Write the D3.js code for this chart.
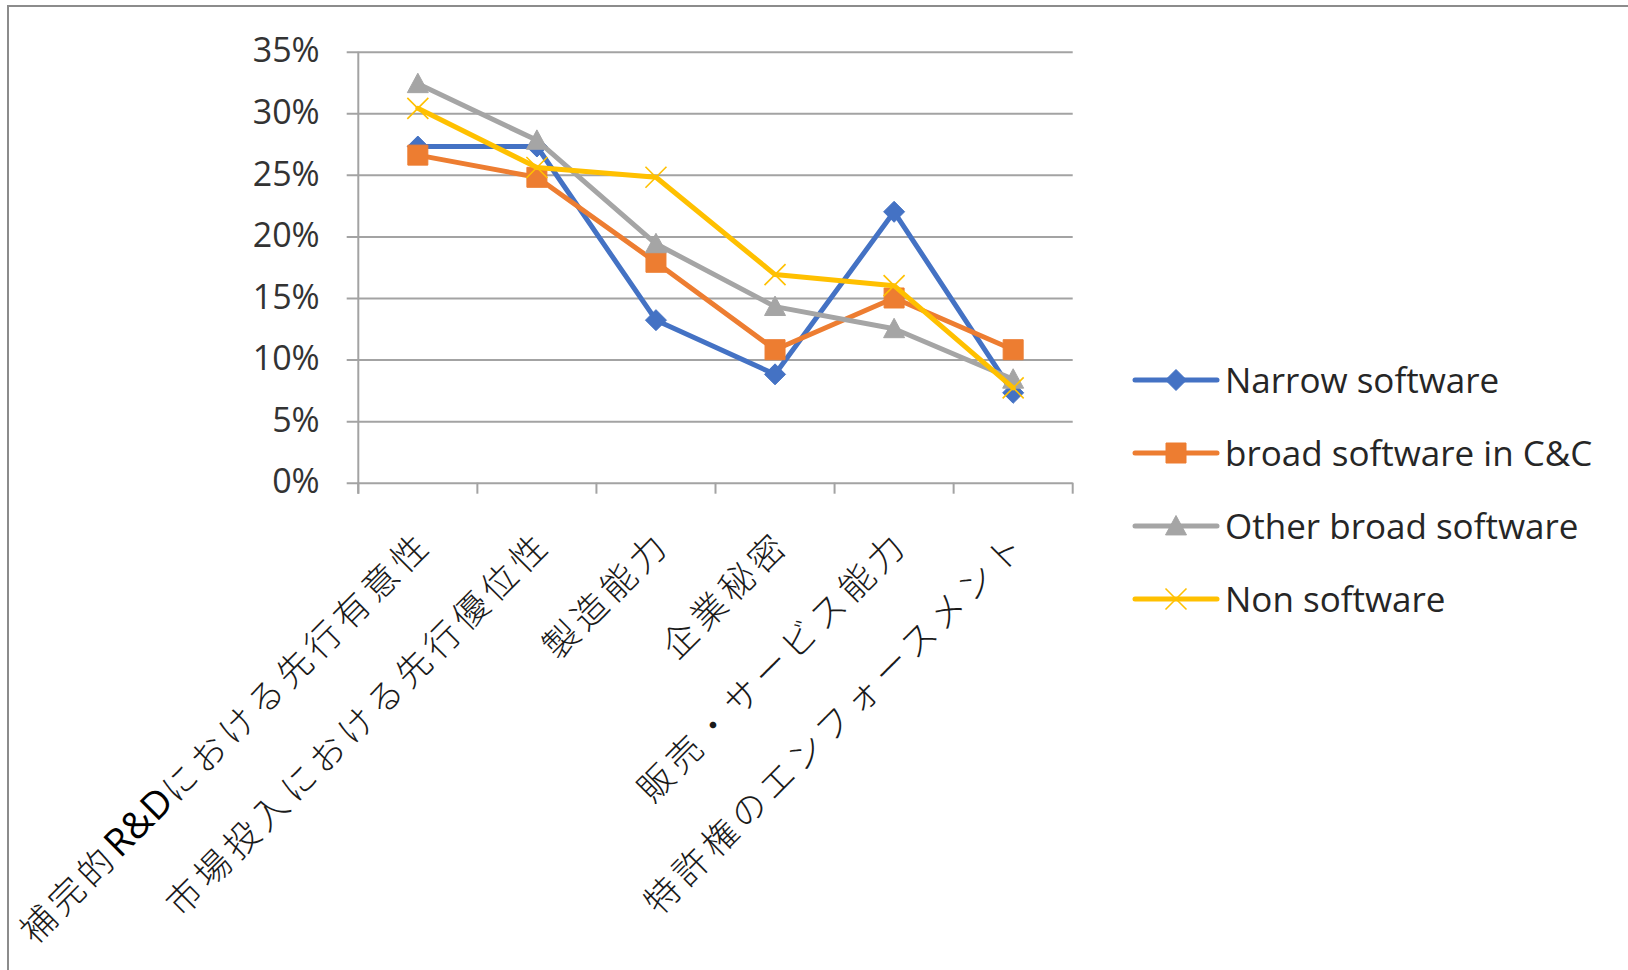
<!DOCTYPE html>
<html>
<head>
<meta charset="utf-8">
<script src="https://cdn.jsdelivr.net/npm/d3@7"></script>
<style>
  html, body { margin: 0; padding: 0; background: #ffffff; }
  svg { display: block; }
</style>
</head>
<body>
<svg id="chart" width="1628" height="970"></svg>
<script>
// Categories along the x axis
const categories = [
  "補完的R&Dにおける先行有意性",
  "市場投入における先行優位性",
  "製造能力",
  "企業秘密",
  "販売・サービス能力",
  "特許権のエンフォースメント"
];

// Series names (legend order) and their values in percent
const seriesNames = ["Narrow software", "broad software in C&C", "Other broad software", "Non software"];
const narrowSoftware = [27.3, 27.3, 13.2, 8.8, 22.0, 7.3];
const broadSoftwareCC = [26.6, 24.8, 17.9, 10.8, 15.0, 10.8];
const otherBroadSoftware = [32.4, 27.8, 19.4, 14.3, 12.5, 8.4];
const nonSoftware = [30.4, 25.6, 24.8, 16.9, 16.0, 7.7];

// Y axis tick values (percent)
const yTicks = [0, 5, 10, 15, 20, 25, 30, 35];

const seriesValues = [narrowSoftware, broadSoftwareCC, otherBroadSoftware, nonSoftware];
const seriesColors = ["#4472C4", "#ED7D31", "#A5A5A5", "#FFC000"];
const seriesMarkers = ["diamond", "square", "triangle", "cross"];

const series = seriesNames.map((name, i) => ({
  name,
  values: seriesValues[i],
  color: seriesColors[i],
  marker: seriesMarkers[i]
}));

const svg = d3.select("#chart");
const latinFont = "'Open Sans', 'Noto Sans', sans-serif";
const cjkFont = "'Noto Sans CJK JP', 'Noto Sans', sans-serif";

// Plot frame
const plot = { left: 358.3, right: 1072.7, top: 51.7, bottom: 482.7 };

// Outer chart border (only the top and left edges fall inside the page)
svg.append("rect")
  .attr("x", 8).attr("y", 6)
  .attr("width", 1700).attr("height", 1100)
  .attr("fill", "none")
  .attr("stroke", "#8c8c8c")
  .attr("stroke-width", 2);

const x = d3.scaleBand().domain(categories).range([plot.left, plot.right]);
const y = d3.scaleLinear().domain([0, 35]).range([plot.bottom, plot.top]);

// Horizontal gridlines and percentage labels
const gridLeft = 346.7;
const yAxis = d3.axisLeft(y)
  .tickValues(yTicks)
  .tickSize(plot.right - gridLeft)
  .tickPadding(27)
  .tickFormat(d => d + "%");

const yG = svg.append("g")
  .attr("transform", `translate(${plot.right},0)`)
  .call(yAxis);
yG.select(".domain").remove();
yG.selectAll(".tick line").attr("stroke", "#a3a3a3").attr("stroke-width", 2);
yG.selectAll(".tick text")
  .attr("fill", "#333333")
  .attr("font-family", latinFont)
  .attr("font-size", 34)
  .attr("dy", "0.3em");

// Vertical axis line
svg.append("line")
  .attr("x1", plot.left).attr("x2", plot.left)
  .attr("y1", plot.top).attr("y2", plot.bottom + 11)
  .attr("stroke", "#a3a3a3").attr("stroke-width", 2);

// Category boundary tick marks below the x axis
const boundaries = categories.map(c => x(c)).concat([x.range()[1]]);
svg.append("g").selectAll("line")
  .data(boundaries)
  .join("line")
  .attr("x1", d => d).attr("x2", d => d)
  .attr("y1", plot.bottom).attr("y2", plot.bottom + 11)
  .attr("stroke", "#a3a3a3").attr("stroke-width", 2);

// Rotated category labels (Latin runs set in a Latin face)
const labelY = 535;
const catG = svg.append("g");
categories.forEach(c => {
  const cx = x(c) + x.bandwidth() / 2;
  const t = catG.append("text")
    .attr("transform", `translate(${cx + 5},${labelY}) rotate(-45)`)
    .attr("text-anchor", "end")
    .attr("dominant-baseline", "central")
    .attr("fill", "#1a1a1a")
    .attr("font-family", cjkFont)
    .attr("font-weight", 300)
    .attr("font-size", 35)
    .attr("letter-spacing", "5.5px");
  c.split(/([A-Za-z&]+)/).filter(s => s.length).forEach(part => {
    const latin = /^[A-Za-z&]+$/.test(part);
    t.append("tspan")
      .attr("font-family", latin ? latinFont : cjkFont)
      .attr("font-weight", latin ? 400 : 300)
      .attr("font-size", latin ? 38 : 35)
      .attr("letter-spacing", latin ? "0px" : "5.5px")
      .attr("fill", latin ? "#000000" : "#1a1a1a")
      .text(part);
  });
});

// Marker path generator
function markerPath(kind, s) {
  const h = s / 2;
  switch (kind) {
    case "diamond": return `M0,${-h}L${h},0L0,${h}L${-h},0Z`;
    case "square": return `M${-h},${-h}H${h}V${h}H${-h}Z`;
    case "triangle": return `M0,${-h}L${h},${h * 0.85}L${-h},${h * 0.85}Z`;
    case "cross": return `M${-h},${-h}L${h},${h}M${-h},${h}L${h},${-h}`;
  }
}
function drawMarker(g, kind, color, size) {
  const p = g.append("path").attr("d", markerPath(kind, size));
  if (kind === "cross") {
    p.attr("fill", "none").attr("stroke", color).attr("stroke-width", 1.6);
  } else {
    p.attr("fill", color).attr("stroke", color).attr("stroke-width", 1);
  }
  return p;
}
const markerSize = { diamond: 21, square: 20, triangle: 21, cross: 21 };

// Series lines and markers
const line = d3.line()
  .x((d, i) => x(categories[i]) + x.bandwidth() / 2)
  .y(d => y(d));

series.forEach(s => {
  const g = svg.append("g");
  g.append("path")
    .datum(s.values)
    .attr("d", line)
    .attr("fill", "none")
    .attr("stroke", s.color)
    .attr("stroke-width", 5)
    .attr("stroke-linejoin", "round")
    .attr("stroke-linecap", "round");
  s.values.forEach((v, i) => {
    const mg = g.append("g")
      .attr("transform", `translate(${x(categories[i]) + x.bandwidth() / 2},${y(v)})`);
    drawMarker(mg, s.marker, s.color, markerSize[s.marker]);
  });
});

// Legend
const legend = { x1: 1135, x2: 1217, textX: 1225, y0: 380, step: 73 };
series.forEach((s, i) => {
  const ly = legend.y0 + i * legend.step;
  const g = svg.append("g");
  g.append("line")
    .attr("x1", legend.x1).attr("x2", legend.x2)
    .attr("y1", ly).attr("y2", ly)
    .attr("stroke", s.color).attr("stroke-width", 5)
    .attr("stroke-linecap", "round");
  const mg = g.append("g").attr("transform", `translate(${(legend.x1 + legend.x2) / 2},${ly})`);
  drawMarker(mg, s.marker, s.color, markerSize[s.marker]);
  g.append("text")
    .attr("x", legend.textX).attr("y", ly)
    .attr("dy", "0.36em")
    .attr("fill", "#262626")
    .attr("font-family", latinFont)
    .attr("font-size", 35)
    .text(s.name);
});
</script>
</body>
</html>
